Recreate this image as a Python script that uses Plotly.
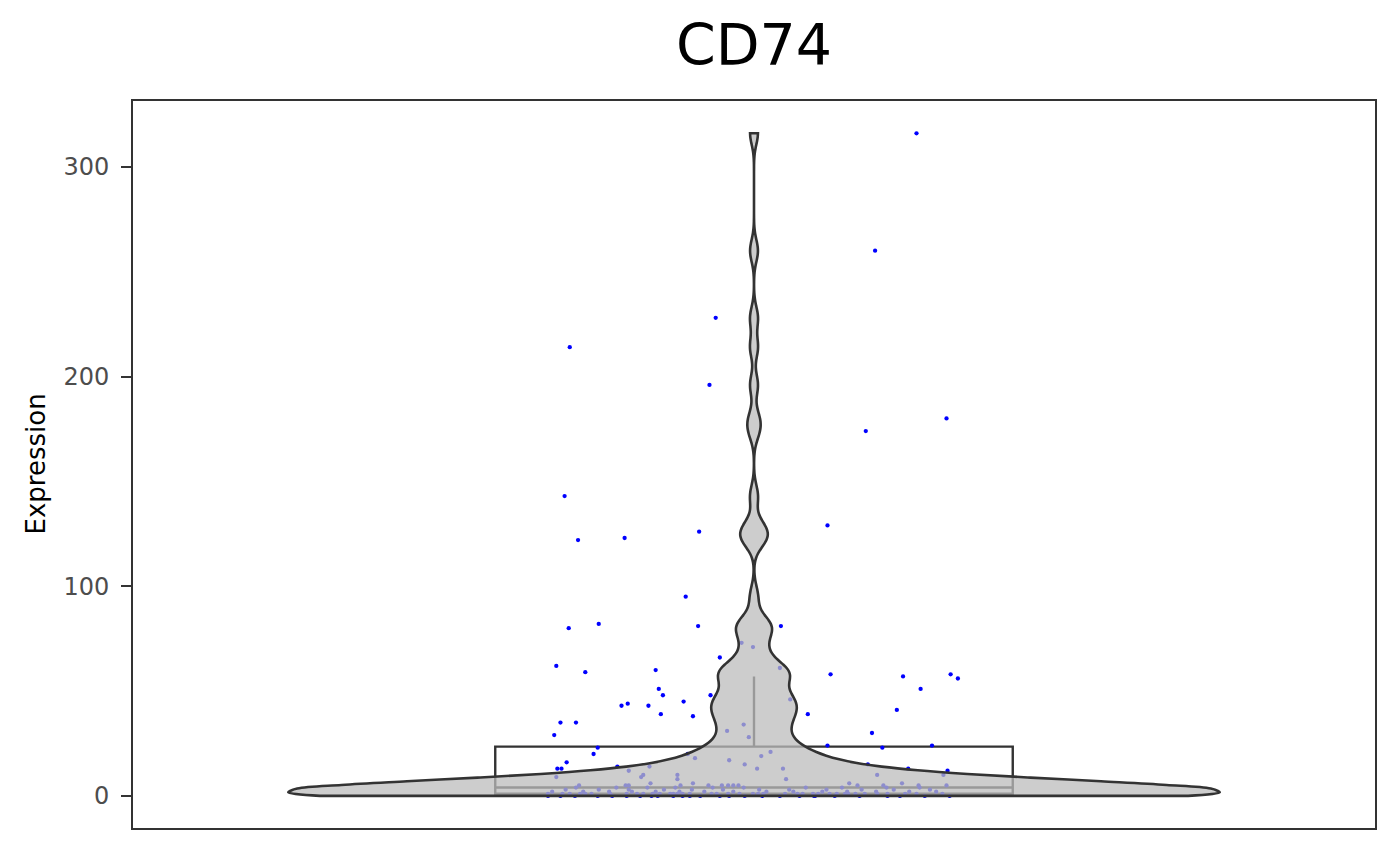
import numpy as np
import plotly.graph_objects as go

# ---- data ----
title_text = "CD74"
y_label = "Expression"
tick_vals = [0, 100, 200, 300]
tick_text = ["0", "100", "200", "300"]
category_pos = 1.0

# jitter offsets (data units around the category) and expression values
upper_jitter = [0.157, 0.117, -0.037, -0.178, -0.043, 0.186, 0.108, -0.183, 0.071, -0.053, -0.125, -0.170,
                -0.066, -0.179, -0.150, -0.054, 0.026,
                -0.012, -0.001, -0.033, -0.191, -0.163, -0.095, -0.092, -0.088, -0.042,
                0.025, 0.074, 0.144, 0.190, 0.197, 0.161, 0.035,
                -0.068, -0.128, -0.122, -0.102, -0.090, -0.059, -0.187, -0.172, -0.193, -0.026, -0.010, -0.005,
                0.052, 0.138, 0.114, 0.071, 0.172]
upper_values = [316, 260, 228, 214, 196, 180, 174, 143, 129, 126, 123, 122,
                95, 80, 82, 81, 81,
                73, 71, 66, 62, 59, 60, 51, 48, 48,
                61, 58, 57, 58, 56, 51, 46,
                45, 43, 44, 43, 39, 38, 35, 35, 29, 31, 34, 28,
                39, 41, 30, 24, 24]

mid_jitter = [-0.151, 0.124, -0.057, 0.016, 0.007, -0.155, -0.181, -0.190, -0.186, -0.132, -0.191, -0.121,
              -0.101, -0.107, -0.109, -0.100, -0.169, -0.124, -0.121, -0.064, -0.024, -0.009, 0.003,
              0.028, 0.031, -0.074, -0.074, -0.059, -0.071, -0.044, -0.031, -0.025, -0.020, -0.015,
              0.110, 0.149, 0.187, 0.119, 0.183, 0.092, 0.100, 0.125, 0.143, 0.159, 0.186]
mid_values = [23, 23, 18, 21, 19, 20, 16, 13, 13, 14, 9, 12,
              14, 10, 9, 6, 5, 5, 5, 20, 17, 15, 13,
              13, 8, 10, 8, 6, 5, 5, 5, 5, 5, 5,
              15, 13, 12, 10, 10, 6, 5, 5, 6, 5, 5]

low_jitter_4 = [-0.172, -0.133, -0.103, -0.076, -0.040, -0.010, 0.050, 0.085, 0.128, 0.160]
low_jitter_3 = [-0.182, -0.150, -0.121, -0.087, -0.060, -0.030, 0.005, 0.034, 0.070, 0.104, 0.135, 0.170]
low_jitter_2 = [-0.195, -0.165, -0.140, -0.118, -0.095, -0.072, -0.048, -0.020, 0.012, 0.038, 0.066, 0.090,
                0.118, 0.150, 0.176]
low_jitter_1 = [-0.199, -0.185, -0.178, -0.168, -0.163, -0.157, -0.139, -0.123, -0.113, -0.107, -0.098, -0.091,
                -0.081, -0.078, -0.074, -0.069, -0.062, -0.041, -0.036, -0.025, -0.014, -0.001, 0.004, 0.009,
                0.030, 0.042, 0.047, 0.057, 0.062, 0.073, 0.080, 0.088, 0.091, 0.098, 0.107, 0.119, 0.129,
                0.146, 0.157, 0.182]
low_jitter_0 = [-0.199, -0.137, -0.123, -0.099, -0.093, -0.078, -0.069, -0.062, -0.033, -0.024, 0.008, 0.058,
                0.059, 0.129, -0.187, -0.173, -0.151, -0.110, -0.052, -0.009, 0.025, 0.044, 0.078, 0.102,
                0.141, 0.165, 0.189]

jitter = (upper_jitter + mid_jitter + low_jitter_4 + low_jitter_3 + low_jitter_2 + low_jitter_1 + low_jitter_0)
values = (upper_values + mid_values + [4] * len(low_jitter_4) + [3] * len(low_jitter_3)
          + [2] * len(low_jitter_2) + [1] * len(low_jitter_1) + [0] * len(low_jitter_0))

vals = np.array(values, dtype=float)
xs = category_pos + np.array(jitter)

# box statistics (ggplot style)
q1, med, q3 = np.percentile(vals, [25, 50, 75])
iqr = q3 - q1
upper_f = vals[vals <= q3 + 1.5 * iqr].max()
lower_f = vals[vals >= q1 - 1.5 * iqr].min()
# R bw.nrd0 bandwidth
bw = 0.9 * min(vals.std(ddof=1), iqr / 1.34) * len(vals) ** (-0.2)

y_range = [-15.3, 331.4]
x_range = [0.4, 1.6]
FONT = "DejaVu Sans"

# page body has an 8px margin, so the figure is sized to fill the remaining window
W, H = 1392, 858
L, R, T, B = 125, 25, 93, 38
plot_w = W - L - R

fig = go.Figure()
fig.add_trace(go.Box(
    x=[category_pos], q1=[q1], median=[med], q3=[q3], lowerfence=[lower_f], upperfence=[upper_f],
    width=0.5, fillcolor="white", line=dict(color="#333333", width=2.4), whiskerwidth=0,
    boxpoints=False, showlegend=False, hoverinfo="skip"))
fig.add_trace(go.Scatter(
    x=xs, y=vals, mode="markers", marker=dict(color="#0000ff", size=4.3, line=dict(width=0)),
    showlegend=False, hoverinfo="skip"))
fig.add_trace(go.Violin(
    y=vals, x0=category_pos, width=0.9, scalemode="width", spanmode="hard", bandwidth=bw,
    side="both", points=False, box_visible=False, meanline_visible=False,
    fillcolor="rgba(188,188,188,0.75)", line=dict(color="#333333", width=2.6),
    showlegend=False, hoverinfo="skip", xaxis="x2", yaxis="y2"))

fig.update_layout(
    width=W, height=H,
    margin=dict(l=L, r=R, t=T, b=B, autoexpand=False),
    paper_bgcolor="white", plot_bgcolor="white",
    font=dict(family=FONT),
    title=dict(text=title_text, x=0.5, xref="paper", xanchor="center",
               y=1 - 17 / H, yref="container", yanchor="top",
               font=dict(family=FONT, size=57, color="black")),
    xaxis=dict(range=x_range, type="linear", showticklabels=False, ticks="", showgrid=False,
               zeroline=False, showline=True, mirror=True, linecolor="#333333", linewidth=1.6,
               automargin=False),
    yaxis=dict(range=y_range, tickvals=tick_vals, ticktext=tick_text, ticks="outside", ticklen=10,
               tickwidth=2.4, tickcolor="#333333", ticklabelstandoff=7,
               tickfont=dict(family=FONT, size=24, color="#4d4d4d"), showgrid=False, zeroline=False,
               showline=True, mirror=True, linecolor="#333333", linewidth=1.6, automargin=False),
    xaxis2=dict(range=x_range, type="linear", overlaying="x", visible=False),
    yaxis2=dict(range=y_range, overlaying="y", visible=False),
    annotations=[dict(text=y_label, textangle=-90, xref="paper", yref="paper",
                      x=(27 - L) / plot_w, y=0.5, xanchor="center", yanchor="middle",
                      showarrow=False, font=dict(family=FONT, size=26, color="black"))],
)

fig.write_html("out.html")
